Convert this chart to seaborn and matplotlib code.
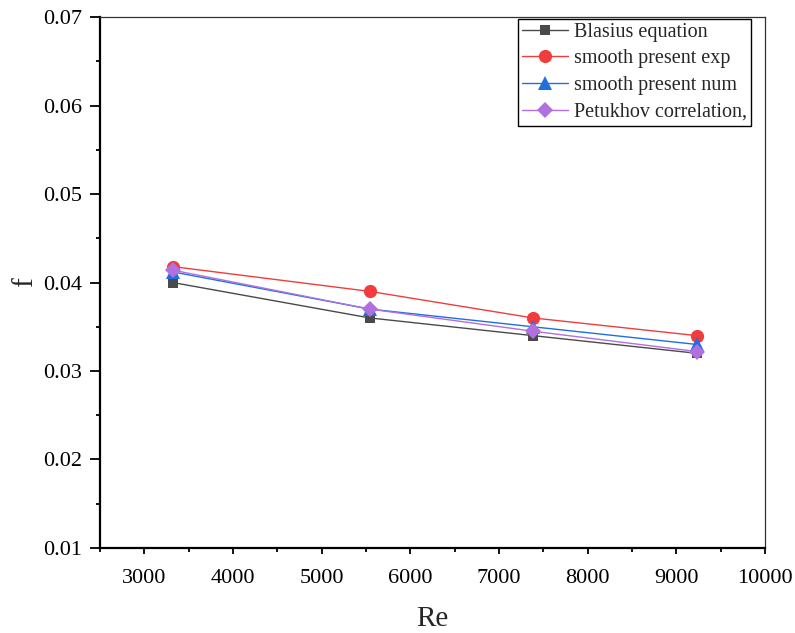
import matplotlib
matplotlib.use("Agg")
import matplotlib.pyplot as plt
from matplotlib.ticker import MultipleLocator
import pandas as pd
import seaborn as sns

# Reynolds numbers of the test runs
re_values = [3320, 5540, 7380, 9230]

# friction factor for each source
blasius = [0.0400, 0.0360, 0.0340, 0.0320]
smooth_exp = [0.0418, 0.0390, 0.0360, 0.0340]
smooth_num = [0.0412, 0.0370, 0.0350, 0.0330]
petukhov = [0.0414, 0.0370, 0.0345, 0.0322]

series_names = ["Blasius equation", "smooth present exp",
                "smooth present num", "Petukhov correlation,"]
series_values = [blasius, smooth_exp, smooth_num, petukhov]

rows = []
for name, vals in zip(series_names, series_values):
    for re_, f in zip(re_values, vals):
        rows.append({"Re": re_, "f": f, "series": name})
df = pd.DataFrame(rows)

sns.set_theme(style="white")
plt.rcParams["font.family"] = ["Liberation Serif", "DejaVu Serif"]

colors = ["#4a4a4a", "#f03c3c", "#1f6fe0", "#b070e0"]
markers = ["s", "o", "^", "D"]
sizes = [7.5, 9.5, 10, 7.8]

fig = plt.figure(figsize=(7.95, 6.33), dpi=100)
ax = fig.add_axes([0.1258, 0.1343, 0.8365, 0.8388])

for name, c, m, ms in zip(series_names, colors, markers, sizes):
    sub = df[df["series"] == name]
    sns.lineplot(data=sub, x="Re", y="f", ax=ax, color=c, marker=m,
                 markersize=ms, markeredgewidth=0, linewidth=1.0,
                 label=name, sort=False)

ax.set_xlim(2500, 10000)
ax.set_ylim(0.01, 0.07)
ax.xaxis.set_minor_locator(MultipleLocator(500))
ax.yaxis.set_minor_locator(MultipleLocator(0.005))
ax.set_xticks([3000, 4000, 5000, 6000, 7000, 8000, 9000, 10000])
ax.set_yticks([0.01, 0.02, 0.03, 0.04, 0.05, 0.06, 0.07])
ax.set_yticklabels(["0.01", "0.02", "0.03", "0.04", "0.05", "0.06", "0.07"])

ax.tick_params(axis="both", which="both", direction="out", width=1.3,
               bottom=True, left=True, top=False, right=False, colors="black")
ax.tick_params(axis="x", which="major", length=4.5, pad=10.5, labelsize=16)
ax.tick_params(axis="y", which="major", length=7, pad=6, labelsize=16)
ax.tick_params(axis="both", which="minor", length=3.2)

for side in ["left", "bottom"]:
    ax.spines[side].set_linewidth(1.6)
    ax.spines[side].set_color("black")
for side in ["top", "right"]:
    ax.spines[side].set_linewidth(0.9)
    ax.spines[side].set_color("#333333")

ax.set_xlabel("Re", fontsize=21, labelpad=13)
ax.set_ylabel("f", fontsize=21, labelpad=3.5)

leg = ax.legend(loc="upper right", bbox_to_anchor=(0.979, 0.997),
                fontsize=14.5, frameon=True, fancybox=False, borderpad=0.2,
                labelspacing=0.38, handlelength=2.3, handletextpad=0.3,
                borderaxespad=0.0)
leg.get_frame().set_edgecolor("black")
leg.get_frame().set_linewidth(1.0)
leg.get_frame().set_alpha(1)

fig.savefig("out.png", dpi=100)
